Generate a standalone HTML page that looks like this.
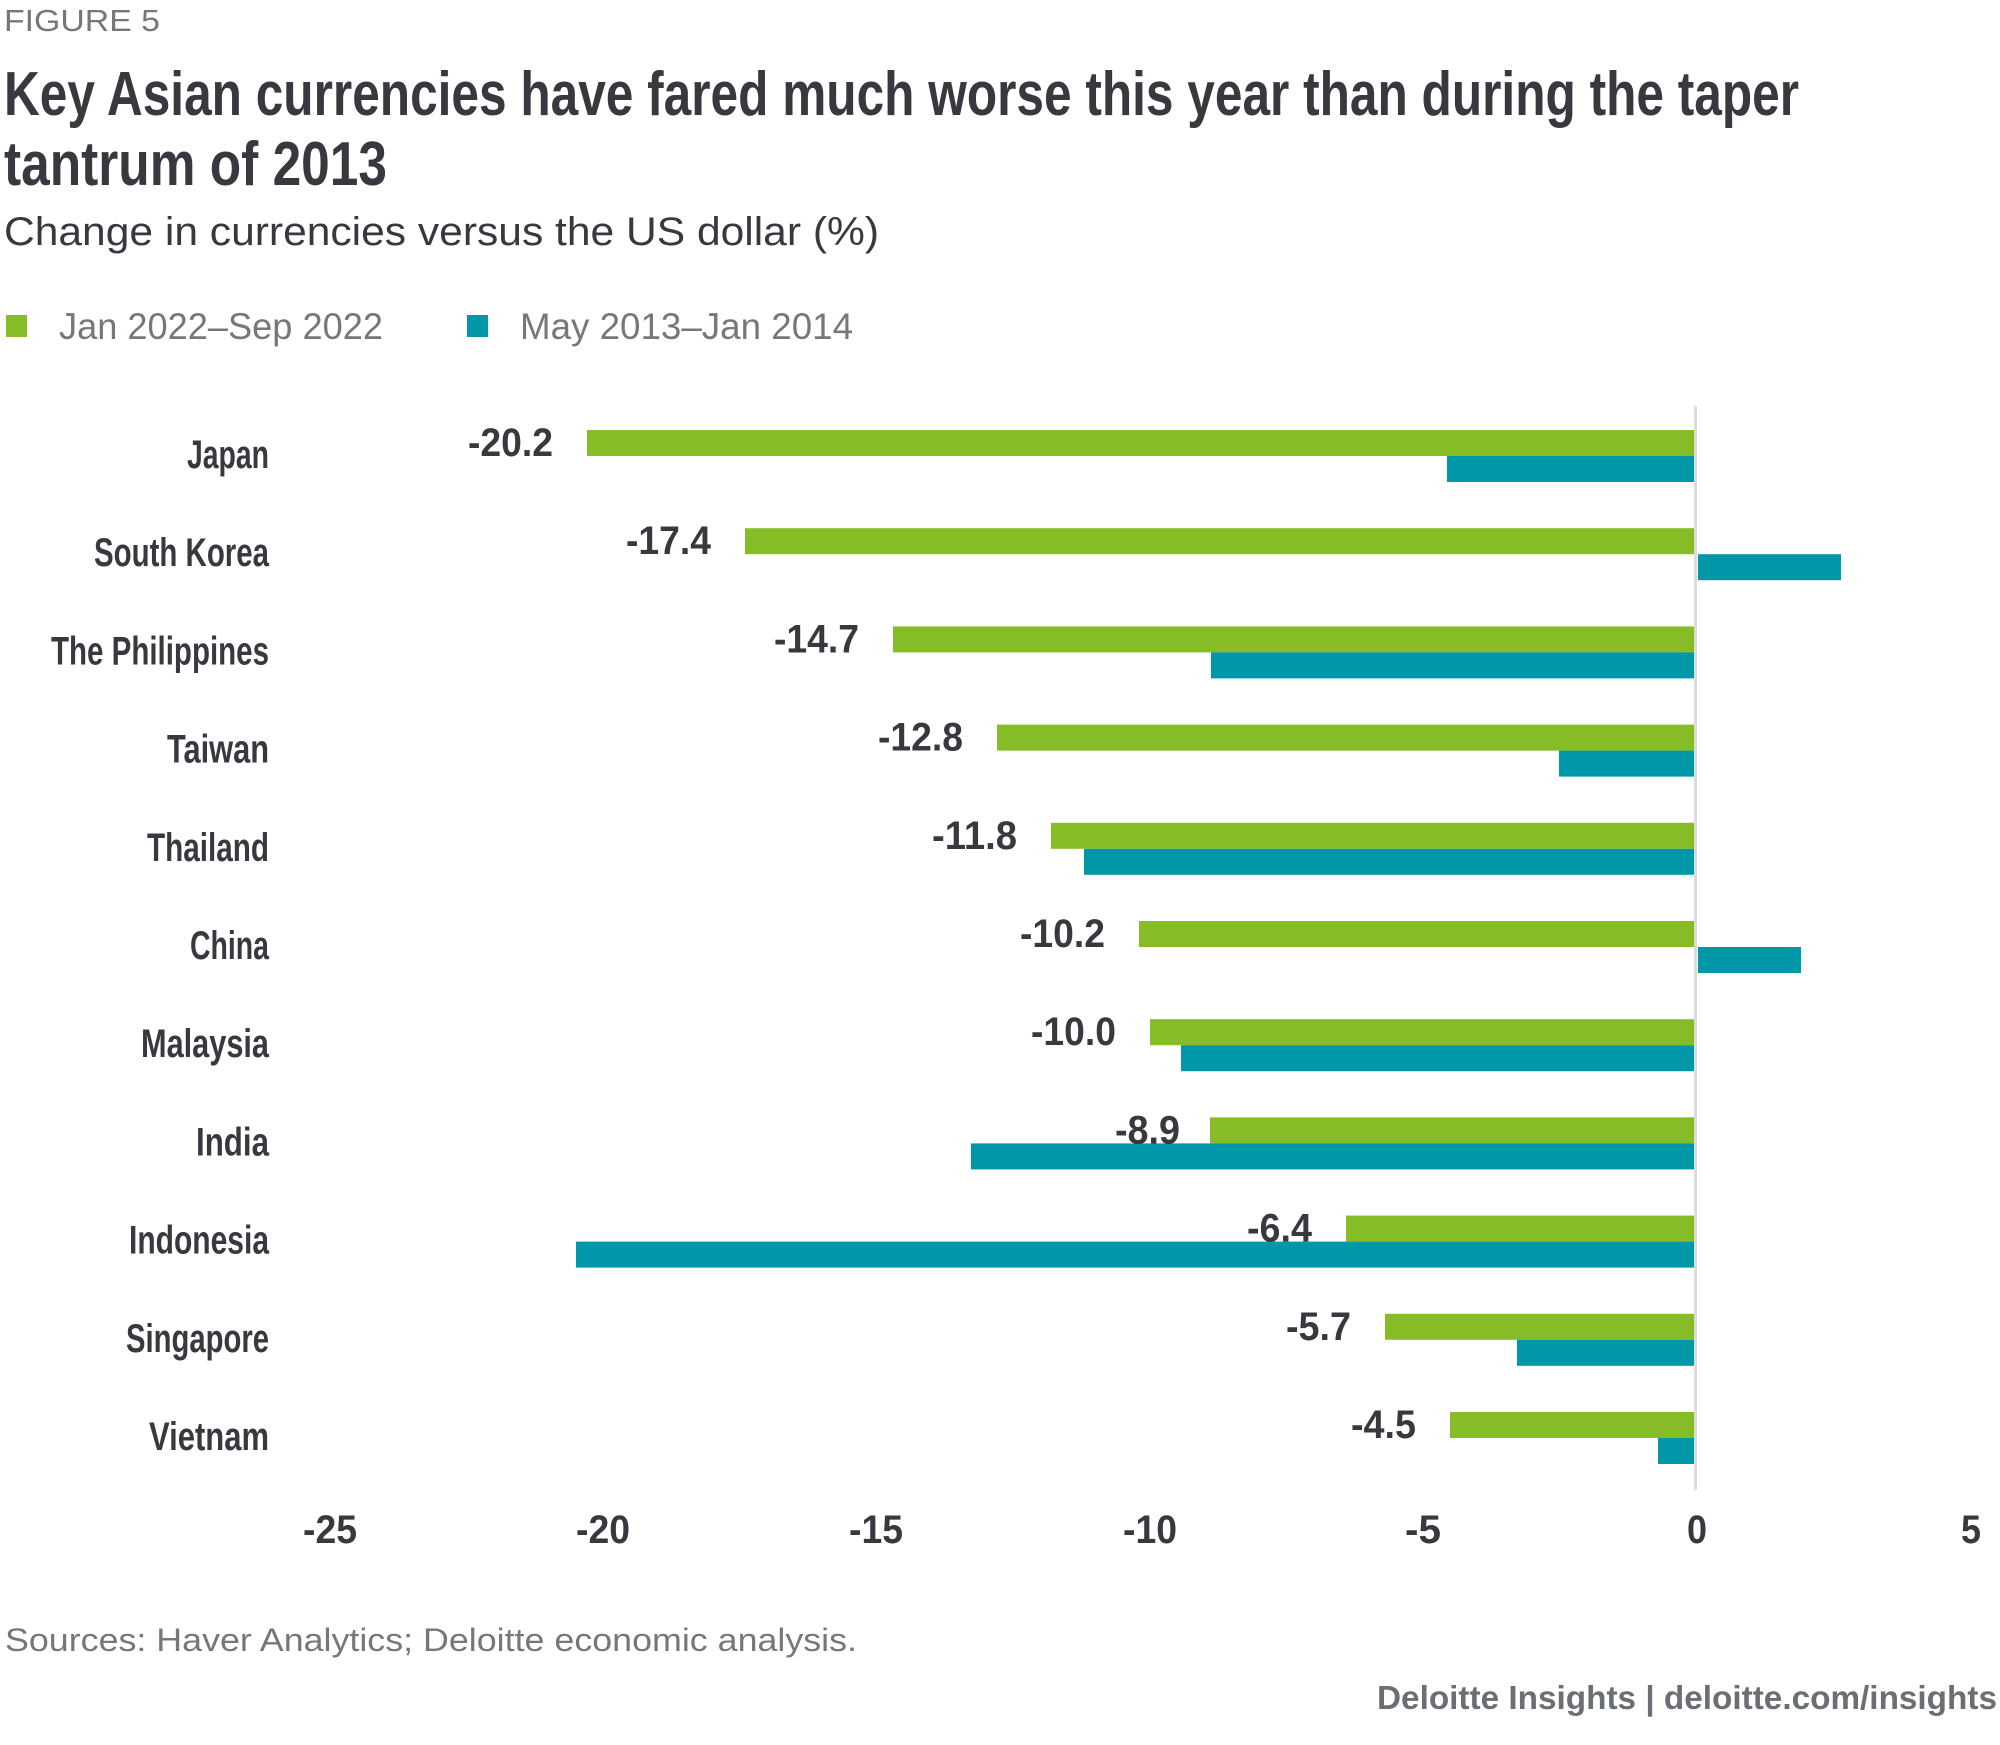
<!DOCTYPE html>
<html><head><meta charset="utf-8"><style>
html,body{margin:0;padding:0;background:#fff;}
svg{display:block;}
.n{font-family:"Liberation Sans",sans-serif;font-weight:bold;fill:#38383f;}
.r{font-family:"Liberation Sans",sans-serif;}
</style></head><body>
<svg width="2000" height="1745" viewBox="0 0 2000 1745" xmlns="http://www.w3.org/2000/svg">
<text x="4" y="31" class="r" font-size="31" fill="#75787b" textLength="156" lengthAdjust="spacingAndGlyphs">FIGURE 5</text>
<text x="4" y="115" class="n" font-size="62" textLength="1795" lengthAdjust="spacingAndGlyphs">Key Asian currencies have fared much worse this year than during the taper</text>
<text x="4" y="185" class="n" font-size="62" textLength="383" lengthAdjust="spacingAndGlyphs">tantrum of 2013</text>
<text x="4" y="245" class="r" font-size="40" fill="#38383f" textLength="875" lengthAdjust="spacingAndGlyphs">Change in currencies versus the US dollar (%)</text>
<rect x="6" y="315" width="21" height="22" fill="#86bc25"/>
<text x="59" y="339" class="r" font-size="37" fill="#75787b" textLength="324" lengthAdjust="spacingAndGlyphs">Jan 2022–Sep 2022</text>
<rect x="467" y="315" width="21" height="22" fill="#0097a9"/>
<text x="520" y="339" class="r" font-size="37" fill="#75787b" textLength="333" lengthAdjust="spacingAndGlyphs">May 2013–Jan 2014</text>
<rect x="1694" y="406" width="3" height="1084" fill="#dcdcdc"/>
<g class="n" font-size="40" lengthAdjust="spacingAndGlyphs">
<g>
<rect x="587" y="430" width="1107" height="26" fill="#86bc25"/><rect x="1447" y="456" width="247" height="26" fill="#0097a9"/>
<text x="269" y="468" text-anchor="end" textLength="82" lengthAdjust="spacingAndGlyphs">Japan</text><text x="553" y="456" text-anchor="end" textLength="85" lengthAdjust="spacingAndGlyphs">-20.2</text></g>
<g transform="translate(0,98.2)">
<rect x="745" y="430" width="949" height="26" fill="#86bc25"/><rect x="1698" y="456" width="143" height="26" fill="#0097a9"/>
<text x="269" y="468" text-anchor="end" textLength="175" lengthAdjust="spacingAndGlyphs">South Korea</text><text x="711" y="456" text-anchor="end" textLength="85" lengthAdjust="spacingAndGlyphs">-17.4</text></g>
<g transform="translate(0,196.4)">
<rect x="893" y="430" width="801" height="26" fill="#86bc25"/><rect x="1211" y="456" width="483" height="26" fill="#0097a9"/>
<text x="269" y="468" text-anchor="end" textLength="218" lengthAdjust="spacingAndGlyphs">The Philippines</text><text x="859" y="456" text-anchor="end" textLength="85" lengthAdjust="spacingAndGlyphs">-14.7</text></g>
<g transform="translate(0,294.6)">
<rect x="997" y="430" width="697" height="26" fill="#86bc25"/><rect x="1559" y="456" width="135" height="26" fill="#0097a9"/>
<text x="269" y="468" text-anchor="end" textLength="102" lengthAdjust="spacingAndGlyphs">Taiwan</text><text x="963" y="456" text-anchor="end" textLength="85" lengthAdjust="spacingAndGlyphs">-12.8</text></g>
<g transform="translate(0,392.8)">
<rect x="1051" y="430" width="643" height="26" fill="#86bc25"/><rect x="1084" y="456" width="610" height="26" fill="#0097a9"/>
<text x="269" y="468" text-anchor="end" textLength="122" lengthAdjust="spacingAndGlyphs">Thailand</text><text x="1017" y="456" text-anchor="end" textLength="85" lengthAdjust="spacingAndGlyphs">-11.8</text></g>
<g transform="translate(0,491)">
<rect x="1139" y="430" width="555" height="26" fill="#86bc25"/><rect x="1698" y="456" width="103" height="26" fill="#0097a9"/>
<text x="269" y="468" text-anchor="end" textLength="79" lengthAdjust="spacingAndGlyphs">China</text><text x="1105" y="456" text-anchor="end" textLength="85" lengthAdjust="spacingAndGlyphs">-10.2</text></g>
<g transform="translate(0,589.2)">
<rect x="1150" y="430" width="544" height="26" fill="#86bc25"/><rect x="1181" y="456" width="513" height="26" fill="#0097a9"/>
<text x="269" y="468" text-anchor="end" textLength="128" lengthAdjust="spacingAndGlyphs">Malaysia</text><text x="1116" y="456" text-anchor="end" textLength="85" lengthAdjust="spacingAndGlyphs">-10.0</text></g>
<g transform="translate(0,687.4)">
<rect x="1210" y="430" width="484" height="26" fill="#86bc25"/><rect x="971" y="456" width="723" height="26" fill="#0097a9"/>
<text x="269" y="468" text-anchor="end" textLength="73" lengthAdjust="spacingAndGlyphs">India</text><text x="1180" y="456" text-anchor="end" textLength="65" lengthAdjust="spacingAndGlyphs">-8.9</text></g>
<g transform="translate(0,785.6)">
<rect x="1346" y="430" width="348" height="26" fill="#86bc25"/><rect x="576" y="456" width="1118" height="26" fill="#0097a9"/>
<text x="269" y="468" text-anchor="end" textLength="140" lengthAdjust="spacingAndGlyphs">Indonesia</text><text x="1312" y="456" text-anchor="end" textLength="65" lengthAdjust="spacingAndGlyphs">-6.4</text></g>
<g transform="translate(0,883.8)">
<rect x="1385" y="430" width="309" height="26" fill="#86bc25"/><rect x="1517" y="456" width="177" height="26" fill="#0097a9"/>
<text x="269" y="468" text-anchor="end" textLength="143" lengthAdjust="spacingAndGlyphs">Singapore</text><text x="1351" y="456" text-anchor="end" textLength="65" lengthAdjust="spacingAndGlyphs">-5.7</text></g>
<g transform="translate(0,982)">
<rect x="1450" y="430" width="244" height="26" fill="#86bc25"/><rect x="1658" y="456" width="36" height="26" fill="#0097a9"/>
<text x="269" y="468" text-anchor="end" textLength="120" lengthAdjust="spacingAndGlyphs">Vietnam</text><text x="1416" y="456" text-anchor="end" textLength="65" lengthAdjust="spacingAndGlyphs">-4.5</text></g>
</g>
<g class="n" font-size="40" text-anchor="middle">
<text x="330" y="1543" textLength="54" lengthAdjust="spacingAndGlyphs">-25</text><text x="603" y="1543" textLength="54" lengthAdjust="spacingAndGlyphs">-20</text><text x="876" y="1543" textLength="54" lengthAdjust="spacingAndGlyphs">-15</text>
<text x="1150" y="1543" textLength="54" lengthAdjust="spacingAndGlyphs">-10</text><text x="1423" y="1543" textLength="36" lengthAdjust="spacingAndGlyphs">-5</text><text x="1697" y="1543" textLength="20" lengthAdjust="spacingAndGlyphs">0</text><text x="1971" y="1543" textLength="20" lengthAdjust="spacingAndGlyphs">5</text>
</g>
<text x="5" y="1651" class="r" font-size="32" fill="#75787b" textLength="852" lengthAdjust="spacingAndGlyphs">Sources: Haver Analytics; Deloitte economic analysis.</text>
<text x="1997" y="1709" class="r" font-size="33" font-weight="bold" fill="#6b6e72" text-anchor="end" textLength="620" lengthAdjust="spacingAndGlyphs">Deloitte Insights | deloitte.com/insights</text>
</svg>
</body></html>
